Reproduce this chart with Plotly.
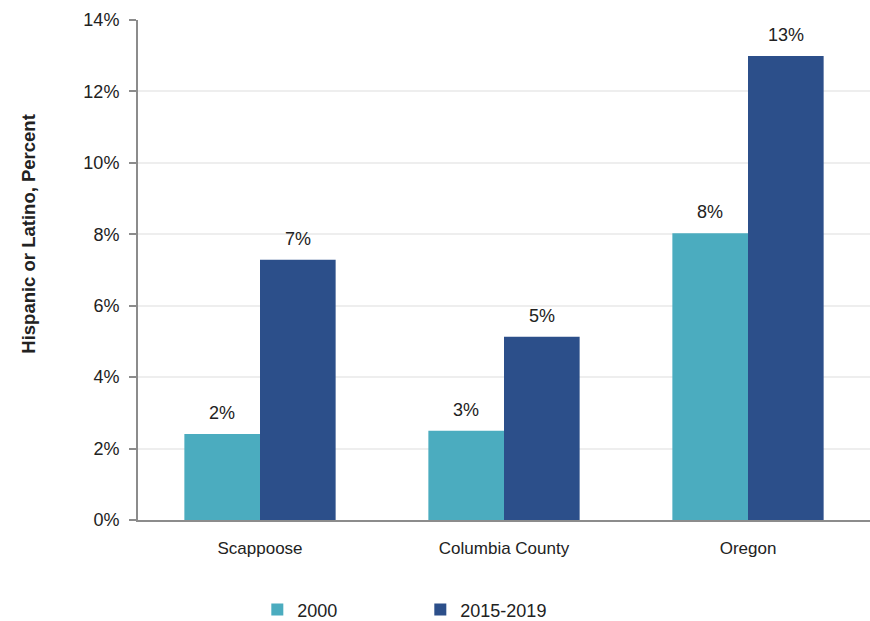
import plotly.graph_objects as go

categories = ["Scappoose", "Columbia County", "Oregon"]
series_names = ["2000", "2015-2019"]
values_2000 = [2.41, 2.5, 8.03]
values_2015 = [7.29, 5.13, 12.99]
labels_2000 = ["2%", "3%", "8%"]
labels_2015 = ["7%", "5%", "13%"]
y_ticks = [0, 2, 4, 6, 8, 10, 12, 14]
y_tick_labels = ["0%", "2%", "4%", "6%", "8%", "10%", "12%", "14%"]
y_title = "Hispanic or Latino, Percent"

colors = ["#4BACBF", "#2C4F8A"]
font_family = "Liberation Sans, Arial, sans-serif"

fig = go.Figure()
for name, vals, col in [(series_names[0], values_2000, colors[0]),
                        (series_names[1], values_2015, colors[1])]:
    fig.add_trace(go.Bar(
        x=categories, y=vals, name=name,
        marker=dict(color=col, line=dict(width=0)),
    ))

fig.update_layout(
    barmode="group",
    bargap=0.38,
    bargroupgap=0,
    width=870, height=621,
    margin=dict(l=138, r=0, t=20, b=101, autoexpand=False),
    plot_bgcolor="white",
    paper_bgcolor="white",
    font=dict(family=font_family, size=17, color="#222222"),
    showlegend=True,
    legend=dict(orientation="h", x=0.163, xanchor="left",
                yref="container", y=0.018, yanchor="middle",
                font=dict(size=18), itemwidth=30, traceorder="normal",
                entrywidth=118, entrywidthmode="pixels"),
    xaxis=dict(
        showline=True, linecolor="#8C8C8C", linewidth=2,
        ticks="", tickfont=dict(size=17), showgrid=False,
        ticklabelstandoff=12,
    ),
    yaxis=dict(
        range=[0, 14], tickvals=y_ticks, ticktext=y_tick_labels,
        showline=True, linecolor="#8C8C8C", linewidth=2,
        ticks="outside", ticklen=7, tickcolor="#8C8C8C", tickwidth=1.5,
        showgrid=True, gridcolor="#EEEEEE", gridwidth=1.5,
        tickfont=dict(size=18), zeroline=False,
        ticklabelstandoff=6,
    ),
)

fig.add_annotation(xref="paper", yref="paper", x=-0.150, y=0.573,
                   text="<b>" + y_title + "</b>", textangle=-90, showarrow=False,
                   font=dict(size=18.5), xanchor="center", yanchor="middle")

for i, cat in enumerate(categories):
    fig.add_annotation(x=cat, y=values_2000[i], text=labels_2000[i], showarrow=False,
                       xshift=-38, yshift=21, font=dict(size=18))
    fig.add_annotation(x=cat, y=values_2015[i], text=labels_2015[i], showarrow=False,
                       xshift=38, yshift=21, font=dict(size=18))

fig.write_html("out.html")
